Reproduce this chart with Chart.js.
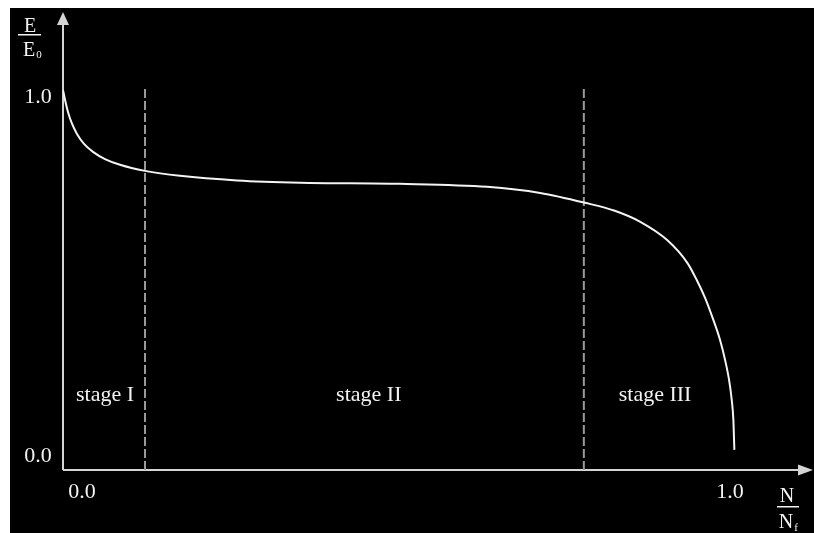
<!DOCTYPE html>
<html>
<head>
<meta charset="utf-8">
<script src="https://cdn.jsdelivr.net/npm/chart.js@4.4.0/dist/chart.umd.min.js"></script>
<style>
  html, body { margin: 0; padding: 0; background: #fff; }
  body { width: 814px; height: 533px; position: relative; overflow: hidden; }
  #chart { position: absolute; left: 10px; top: 8px; background: #000; }
</style>
</head>
<body>
<canvas id="chart" width="804" height="525"></canvas>
<script>
// N/Nf (x) and E/E0 (y)
const nValues = [0, 0.003, 0.0074, 0.0134, 0.0208, 0.0313, 0.0446, 0.0625, 0.0848, 0.122, 0.174, 0.259, 0.353, 0.501, 0.631, 0.710, 0.777, 0.821, 0.859, 0.899, 0.929, 0.943, 0.9554, 0.9677, 0.9777, 0.9851, 0.9911, 0.9951, 0.9975, 0.999];
const eValues = [1.0, 0.974, 0.942, 0.911, 0.884, 0.858, 0.837, 0.818, 0.803, 0.787, 0.774, 0.762, 0.756, 0.753, 0.745, 0.729, 0.703, 0.682, 0.653, 0.605, 0.545, 0.500, 0.453, 0.395, 0.342, 0.290, 0.237, 0.184, 0.132, 0.053];

// stage boundaries (dashed lines)
const stageBounds = [0.122, 0.775];
const stageNames = ["stage I", "stage II", "stage III"];
const stageLabelX = [0.0625, 0.455, 0.881];
const stageLabelY = 0.197;

const xTickValues = [0, 1];
const xTickLabels = ["0.0", "1.0"];
const yTickValues = [0, 1];
const yTickLabels = ["0.0", "1.0"];

const axisColor = "#d4d4d4";
const textColor = "#f2f2f2";
const serif = '"Liberation Serif", "DejaVu Serif", serif';

const curve = nValues.map((n, i) => ({ x: n, y: eValues[i] }));
const datasets = [
  {
    data: curve,
    borderColor: "#f4f4f4",
    borderWidth: 2,
    pointRadius: 0,
    cubicInterpolationMode: "monotone",
    fill: false
  }
];
stageBounds.forEach(b => {
  datasets.push({
    data: [{ x: b, y: 0 }, { x: b, y: 1.003 }],
    borderColor: "#9a9a9a",
    borderWidth: 2,
    borderDash: [9, 3],
    pointRadius: 0,
    fill: false
  });
});

// axes with arrow heads, tick labels, fraction labels and stage names
const decor = {
  id: "decor",
  beforeDatasetsDraw(chart) {
    const c = chart.ctx;
    const xs = chart.scales.x, ys = chart.scales.y;
    const x0 = xs.getPixelForValue(0), y0 = ys.getPixelForValue(0);
    const top = chart.chartArea.top, right = chart.chartArea.right;
    c.save();
    c.strokeStyle = axisColor;
    c.fillStyle = axisColor;
    c.lineWidth = 2;
    c.beginPath();
    c.moveTo(x0, y0);
    c.lineTo(x0, top + 10);
    c.moveTo(x0, y0);
    c.lineTo(right - 12, y0);
    c.stroke();
    c.beginPath();
    c.moveTo(x0, top);
    c.lineTo(x0 - 6, top + 13);
    c.lineTo(x0 + 6, top + 13);
    c.closePath();
    c.fill();
    c.beginPath();
    c.moveTo(right, y0);
    c.lineTo(right - 15, y0 - 5.5);
    c.lineTo(right - 15, y0 + 5.5);
    c.closePath();
    c.fill();
    c.restore();
  },
  afterDraw(chart) {
    const c = chart.ctx;
    const xs = chart.scales.x, ys = chart.scales.y;
    const x0 = xs.getPixelForValue(0), y0 = ys.getPixelForValue(0);
    c.save();
    c.fillStyle = textColor;
    c.strokeStyle = textColor;
    c.textAlign = "center";
    c.textBaseline = "middle";
    c.font = "22px " + serif;
    // y tick labels
    yTickValues.forEach((v, i) => {
      const off = v === 0 ? -14 : 7;
      c.fillText(yTickLabels[i], x0 - 25, ys.getPixelForValue(v) + off);
    });
    // x tick labels
    xTickValues.forEach((v, i) => {
      const off = v === 0 ? 19 : -5;
      c.fillText(xTickLabels[i], xs.getPixelForValue(v) + off, y0 + 22);
    });
    // stage names
    stageNames.forEach((s, i) => {
      c.fillText(s, xs.getPixelForValue(stageLabelX[i]), ys.getPixelForValue(stageLabelY));
    });
    // E / E0 fraction
    c.font = "20px " + serif;
    c.fillText("E", 20, 19);
    c.fillRect(8, 26, 23, 1.5);
    c.fillText("E", 19, 43);
    c.font = "11px " + serif;
    c.fillText("0", 29, 47);
    // N / Nf fraction
    c.font = "20px " + serif;
    c.fillText("N", 777, 489);
    c.fillRect(767, 498, 22, 1.5);
    c.fillText("N", 776, 515);
    c.font = "11px " + serif;
    c.fillText("f", 786, 520);
    c.restore();
  }
};

new Chart(document.getElementById("chart"), {
  type: "line",
  data: { datasets: datasets },
  options: {
    responsive: false,
    devicePixelRatio: 1,
    animation: false,
    layout: { padding: { left: 53, top: 4, right: 1, bottom: 63 } },
    plugins: { legend: { display: false }, tooltip: { enabled: false } },
    scales: {
      x: { type: "linear", display: false, min: 0, max: 1.116 },
      y: { type: "linear", display: false, min: 0, max: 1.205 }
    }
  },
  plugins: [decor]
});
</script>
</body>
</html>
